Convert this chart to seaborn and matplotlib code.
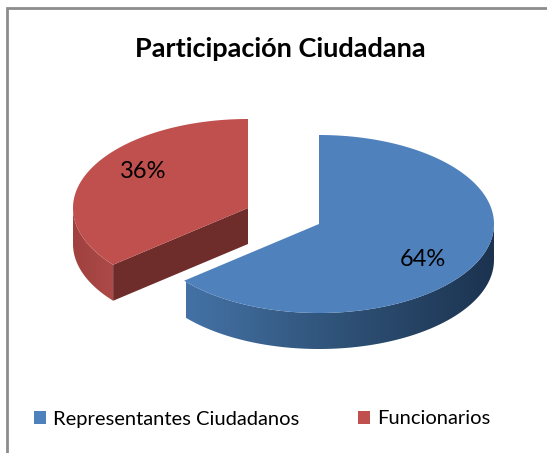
import numpy as np
import matplotlib
matplotlib.use("Agg")
import matplotlib.pyplot as plt
from matplotlib.colors import LinearSegmentedColormap
from matplotlib.patches import Patch, Polygon
import seaborn as sns

TITLE = "Participación Ciudadana"
labels = ["Representantes Ciudadanos", "Funcionarios"]
shares = [64, 36]

BLUE, RED = sns.color_palette(["#4F81BD", "#C0504D"])
RX, RY, DEPTH = 175, 89, 36

sns.set_theme(style="white")
plt.rcParams["font.family"] = ["Lato", "DejaVu Sans"]


def arc(cx, cy, a0, a1, dy=0):
    # angles clockwise from 12 o'clock, in degrees
    t = np.radians(np.linspace(a0, a1, 200))
    return np.column_stack([cx + RX * np.sin(t), cy - RY * np.cos(t) + dy])


def gradient_poly(ax, pts, colors, x0, x1):
    cmap = LinearSegmentedColormap.from_list("wall", colors)
    poly = Polygon(pts, closed=True, fc="none", ec="none")
    ax.add_patch(poly)
    im = ax.imshow(np.linspace(0, 1, 256).reshape(1, -1), cmap=cmap, aspect="auto",
                   extent=[x0, x1, 453, 0], zorder=1)
    im.set_clip_path(poly)


fig = plt.figure(figsize=(5.47, 4.53), dpi=100)
ax = fig.add_axes([0, 0, 1, 1])

split = 360 * shares[0] / sum(shares)

# red slice, pulled up and to the left
rx0, ry0 = 248, 208
red_top = np.vstack([[rx0, ry0], arc(rx0, ry0, split, 360)])
wall = np.vstack([arc(rx0, ry0, split, 270), arc(rx0, ry0, 270, split, DEPTH)])
gradient_poly(ax, wall, ["#A0413F", "#AC4B48"], 73, 116)
corner = arc(rx0, ry0, split, split + 0.001)[0]
cut = [[rx0, ry0], corner, corner + [0, DEPTH], [rx0, ry0 + DEPTH]]
ax.add_patch(Polygon(cut, closed=True, fc="#6E2C2A", ec="none", zorder=2))
ax.add_patch(Polygon(red_top, closed=True, fc=RED, ec="none", zorder=3))

# blue slice
bx0, by0 = 319, 224
blue_top = np.vstack([[bx0, by0], arc(bx0, by0, 0, split)])
wall = np.vstack([arc(bx0, by0, 90, split), arc(bx0, by0, split, 90, DEPTH)])
gradient_poly(ax, wall, ["#4472A6", "#2F5277", "#1C3350"], 186, 494)
ax.add_patch(Polygon(blue_top, closed=True, fc=BLUE, ec="none", zorder=3))

ax.text(423, 259, f"{shares[0]}%", fontsize=17, color="black", ha="center", va="center", zorder=4)
ax.text(143, 172, f"{shares[1]}%", fontsize=17, color="black", ha="center", va="center", zorder=4)

ax.text(280, 49, TITLE, fontsize=19.5, fontweight="bold", color="black", ha="center", va="center")

# chart frame, open at the bottom and right
ax.plot([7, 7, 547], [453, 7.5, 7.5], color="#8C8C8C", lw=2, solid_joinstyle="miter", zorder=5)

handles = [Patch(fc=BLUE, ec="none"), Patch(fc=RED, ec="none")]
ax.legend(handles, labels, ncols=2, loc="center", bbox_to_anchor=(262, 419),
          bbox_transform=ax.transData, frameon=False, fontsize=14.5, handlelength=0.62,
          handleheight=0.62, handletextpad=0.35, columnspacing=2.9, borderpad=0, labelcolor="black")

ax.set_xlim(0, 547)
ax.set_ylim(453, 0)
ax.axis("off")

fig.savefig("out.png", dpi=100, facecolor="white")
plt.close(fig)
